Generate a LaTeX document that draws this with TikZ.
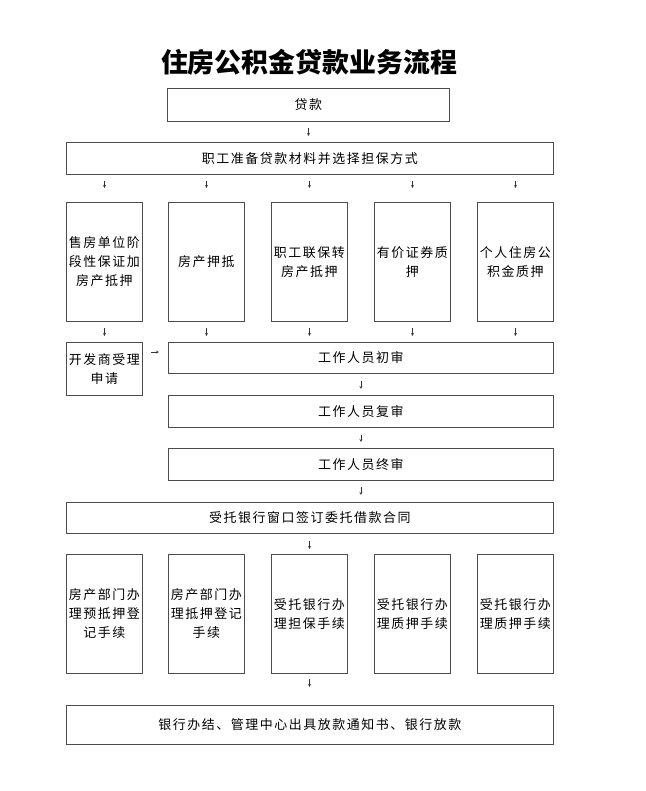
\documentclass[tikz,border=0pt]{standalone}
\usepackage{fontspec}
\setmainfont{Noto Sans CJK SC}[LetterSpace=12]
\newfontfamily\titlefont{Noto Sans CJK SC}
\usetikzlibrary{arrows,calc}

\begin{document}
\begin{tikzpicture}[x=1bp, y=-1bp,
	box/.style={draw=black!70, line width=0.8bp, inner sep=0pt, align=center, anchor=north west, font=\fontsize{13}{19}\selectfont},
	wide/.style={box, minimum width=487bp, minimum height=32bp},
	tall/.style={box, minimum width=76bp, minimum height=119bp},
	check/.style={box, minimum width=385bp, minimum height=32bp}]
\useasboundingbox (0,0) rectangle (646,791);

\node[font=\titlefont\bfseries\fontsize{27}{30}\selectfont] (title) at (309,62) {住房公积金贷款业务流程};

\node[box, minimum width=282bp, minimum height=33bp] (loan) at (167,88) {贷款};
\node[wide] (prep) at (66,142) {职工准备贷款材料并选择担保方式};

\node[tall] (a1) at (66,202) {售房单位阶\\段性保证加\\房产抵押};
\node[tall] (a2) at (168,202) {房产押抵};
\node[tall] (a3) at (271,202) {职工联保转\\房产抵押};
\node[tall] (a4) at (374,202) {有价证券质\\押};
\node[tall] (a5) at (477,202) {个人住房公\\积金质押};

\node[box, minimum width=76bp, minimum height=53bp] (dev) at (66,342) {开发商受理\\申请};
\node[check, minimum height=31bp] (first) at (168,342) {工作人员初审};
\node[check] (second) at (168,395) {工作人员复审};
\node[check] (last) at (168,448) {工作人员终审};
\node[wide, minimum height=31bp] (contract) at (66,502) {受托银行窗口签订委托借款合同};

\node[tall] (b1) at (66,554) {房产部门办\\理预抵押登\\记手续};
\node[tall] (b2) at (168,554) {房产部门办\\理抵押登记\\手续};
\node[tall] (b3) at (271,554) {受托银行办\\理担保手续};
\node[tall] (b4) at (374,554) {受托银行办\\理质押手续};
\node[tall] (b5) at (477,554) {受托银行办\\理质押手续};

\node[wide, minimum height=39bp] (lend) at (66,705) {银行办结、管理中心出具放款通知书、银行放款};

\begin{scope}[every path/.style={->, >=stealth, draw, black!80, thin}]
	\draw[shorten <=6bp, shorten >=6bp] (loan.south) -- (loan.south |- prep.north);
	\foreach \n in {a1,a2,a3,a4,a5}
		\draw[shorten <=6bp, shorten >=14bp] (\n.north |- prep.south) -- (\n.north);
	\draw[shorten <=6bp, shorten >=6bp] (a1.south) -- (dev.north);
	\foreach \n in {a2,a3,a4,a5}
		\draw[shorten <=6bp, shorten >=6bp] (\n.south) -- (\n.south |- first.north);
	\draw[shorten <=8bp, shorten >=9bp] ([yshift=-10bp]dev.north east) -- ([yshift=-10bp]dev.north east -| first.west);
	\draw[shorten <=7bp, shorten >=6bp] (first) -- (second);
	\draw[shorten <=7bp, shorten >=6bp] (second) -- (last);
	\draw[shorten <=6bp, shorten >=7bp] (last.south) -- (last.south |- contract.north);
	\draw[shorten <=7bp, shorten >=5bp] (b3.north |- contract.south) -- (b3.north);
	\draw[shorten <=5bp, shorten >=18bp] (b3.south) -- (b3.south |- lend.north);
\end{scope}

\end{tikzpicture}
\end{document}
